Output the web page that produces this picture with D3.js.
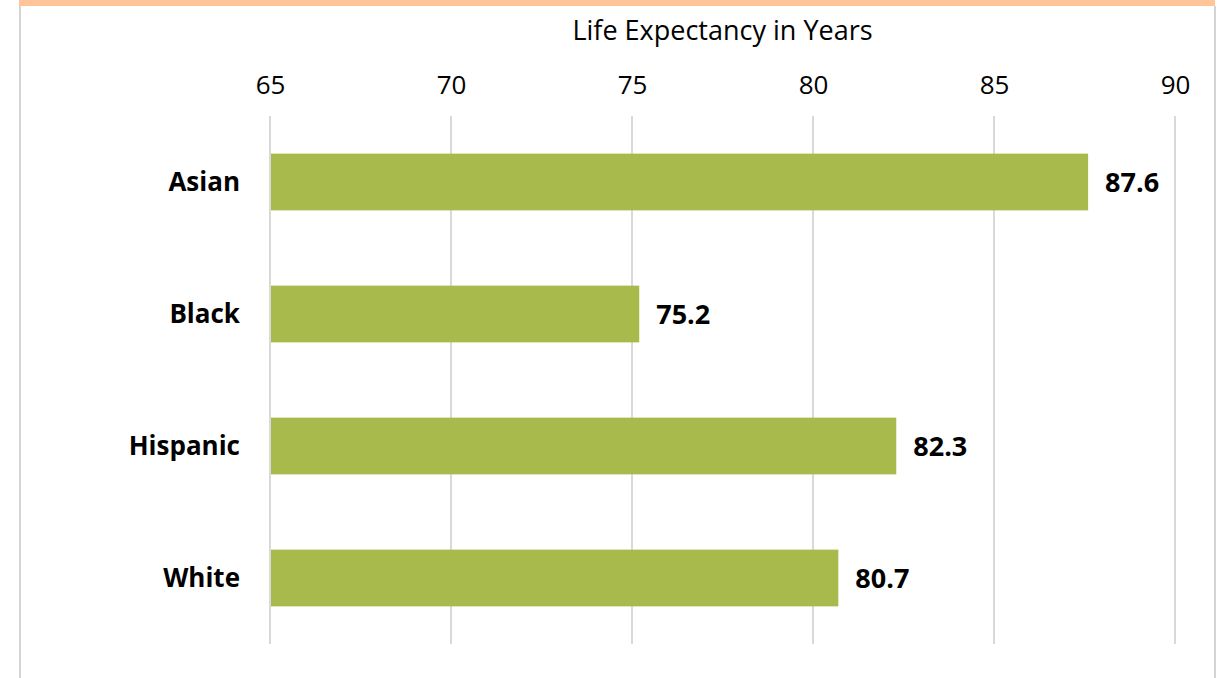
<!DOCTYPE html>
<html>
<head>
<meta charset="utf-8">
<script src="https://cdn.jsdelivr.net/npm/d3@7"></script>
<style>
  body { margin: 0; background: #fff; }
  svg { display: block; font-family: "Open Sans", "Noto Sans", sans-serif; }
</style>
</head>
<body>
<svg id="chart" width="1217" height="678"></svg>
<script>
var categories = ['Asian', 'Black', 'Hispanic', 'White'];
var values = [87.6, 75.2, 82.3, 80.7];
var tickValues = [65, 70, 75, 80, 85, 90];
var axisTitle = 'Life Expectancy in Years';

var svg = d3.select('#chart');
var W = 1217, H = 678;
var margin = {left: 270, right: 42, top: 116, bottom: 34};

// frame: orange top band, grey sides
svg.append('rect').attr('x', 19).attr('y', 0).attr('width', 1196).attr('height', 6).attr('fill', '#ffc599');
svg.append('line').attr('x1', 20).attr('x2', 20).attr('y1', 6).attr('y2', H).attr('stroke', '#d4d4d4').attr('stroke-width', 2);
svg.append('line').attr('x1', 1215).attr('x2', 1215).attr('y1', 6).attr('y2', H).attr('stroke', '#d4d4d4').attr('stroke-width', 2);

var x = d3.scaleLinear().domain([65, 90]).range([margin.left, W - margin.right]);
var y = d3.scaleBand().domain(categories).range([margin.top, H - margin.bottom]).paddingInner(0.57).paddingOuter(0.285);

// gridlines
svg.append('g').selectAll('line').data(tickValues).enter().append('line')
  .attr('x1', function(d){ return x(d); })
  .attr('x2', function(d){ return x(d); })
  .attr('y1', margin.top)
  .attr('y2', H - margin.bottom)
  .attr('stroke', '#d9d9d9')
  .attr('stroke-width', 2);

// top axis
var axis = svg.append('g')
  .attr('transform', 'translate(0,' + 94 + ')')
  .call(d3.axisTop(x).tickValues(tickValues).tickSize(0).tickPadding(0));
axis.attr('font-family', null).attr('font-size', null);
axis.select('.domain').remove();
axis.selectAll('text').attr('font-size', 26).attr('fill', '#000');

svg.append('text')
  .attr('x', (x(65) + x(90)) / 2)
  .attr('y', 40)
  .attr('text-anchor', 'middle')
  .attr('font-size', 27)
  .text(axisTitle);

// bars
svg.append('g').selectAll('rect').data(values).enter().append('rect')
  .attr('x', x(65) + 1)
  .attr('y', function(d, i){ return y(categories[i]); })
  .attr('width', function(d){ return x(d) - x(65) - 1; })
  .attr('height', y.bandwidth())
  .attr('fill', '#a8ba4b');

// value labels
svg.append('g').selectAll('text').data(values).enter().append('text')
  .attr('x', function(d){ return x(d) + 17; })
  .attr('y', function(d, i){ return y(categories[i]) + y.bandwidth() / 2; })
  .attr('dy', '0.36em')
  .attr('font-size', 27)
  .attr('font-weight', 'bold')
  .text(function(d){ return d.toFixed(1); });

// category labels
svg.append('g').selectAll('text').data(categories).enter().append('text')
  .attr('x', 240)
  .attr('y', function(d){ return y(d) + y.bandwidth() / 2; })
  .attr('dy', '0.36em')
  .attr('text-anchor', 'end')
  .attr('font-size', 26)
  .attr('font-weight', 'bold')
  .text(function(d){ return d; });
</script>
</body>
</html>
